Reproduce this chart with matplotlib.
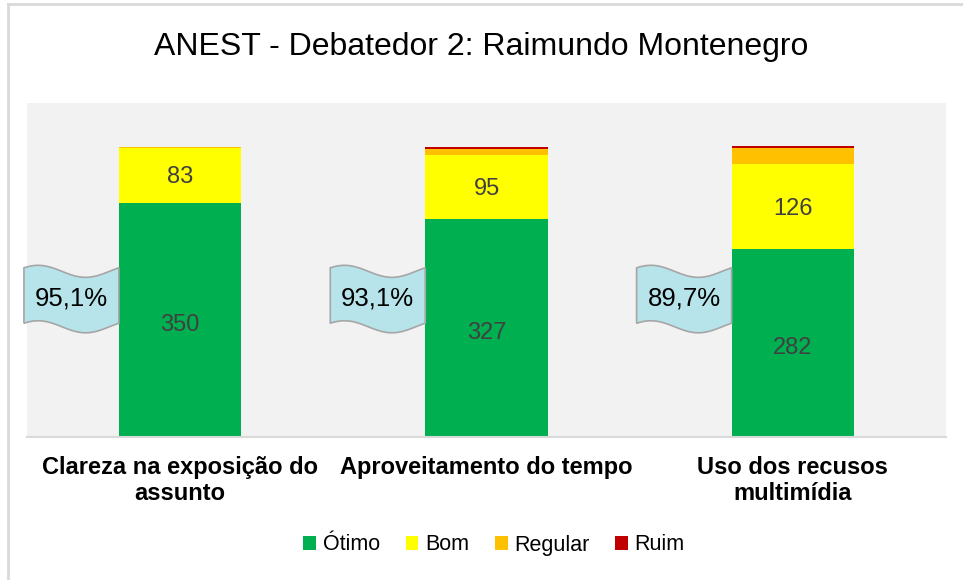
import numpy as np
import matplotlib.pyplot as plt
from matplotlib.patches import Patch, Polygon
from matplotlib.lines import Line2D

plt.rcParams['font.family'] = ['Liberation Sans', 'DejaVu Sans']

# data
categorias = ['Clareza na exposição do\nassunto', 'Aproveitamento do tempo', 'Uso dos recusos\nmultimídia']
otimo = [350, 327, 282]
bom = [83, 95, 126]
regular = [1, 9, 24]
ruim = [0, 3, 3]
percentuais = ['95,1%', '93,1%', '89,7%']
series = ['Ótimo', 'Bom', 'Regular', 'Ruim']
cores = ['#00B050', '#FFFF00', '#FFC000', '#C00000']

fig = plt.figure(figsize=(9.63, 5.8), dpi=100)
ax = fig.add_axes([27/963, 1-437/580, 919/963, 334/580])
ax.set_facecolor('#F2F2F2')

x = np.arange(len(categorias))
w = 0.4
base = np.zeros(len(x))
for vals, cor in zip([otimo, bom, regular, ruim], cores):
    ax.bar(x, vals, w, bottom=base, color=cor, zorder=2)
    base = base + np.array(vals)

# data labels (only Ótimo and Bom)
for i in x:
    ax.text(i, otimo[i]/2 - 8, str(otimo[i]), ha='center', va='center', fontsize=17, color='#404040', zorder=3)
    ax.text(i, otimo[i] + bom[i]/2 - 3, str(bom[i]), ha='center', va='center', fontsize=17, color='#404040', zorder=3)

# wavy callouts with percentages
for i in x:
    x0 = i - w/2 - 0.31
    x1 = i - w/2
    t = np.linspace(0, 1, 60)
    xs = x0 + (x1 - x0)*t
    amp = 9
    wave = amp*np.sin(2*np.pi*(t + 0.1))
    top = 248 + wave
    bot = 165 + wave
    pts = np.vstack([np.column_stack([xs, top]), np.column_stack([xs[::-1], bot[::-1]])])
    ax.add_patch(Polygon(pts, closed=True, facecolor='#B7E4EA', edgecolor='#A6A6A6', lw=1.2, zorder=4, clip_on=False))
    ax.text((x0 + x1)/2, 208, percentuais[i], ha='center', va='center', fontsize=18.5, color='black', zorder=5)

ax.set_xlim(-0.5, 2.5)
ax.set_ylim(0, 500)
ax.set_yticks([])
ax.set_xticks(x)
ax.set_xticklabels(categorias, fontsize=17, fontweight='bold', color='black', linespacing=1.15)
ax.tick_params(axis='x', length=0, pad=14)
for s in ['top', 'left', 'right']:
    ax.spines[s].set_visible(False)
ax.spines['bottom'].set_color('#D9D9D9')
ax.spines['bottom'].set_linewidth(1.5)

fig.text(0.5, 1-47/580, 'ANEST - Debatedor 2: Raimundo Montenegro', ha='center', va='center', fontsize=23, color='black')

handles = [Patch(facecolor=c, edgecolor='none') for c in cores]
fig.legend(handles, series, loc='center', bbox_to_anchor=(0.513, 1-545/580), ncol=4, frameon=False,
           fontsize=15.5, handlelength=0.6, handleheight=0.6, handletextpad=0.3, columnspacing=1.2)

# chart border
fig.add_artist(Line2D([8/963, 8/963], [0, 1-4/580], color='#D9D9D9', lw=2))
fig.add_artist(Line2D([8/963, 1], [1-4/580, 1-4/580], color='#D9D9D9', lw=2))

plt.savefig('out.png', dpi=100)
